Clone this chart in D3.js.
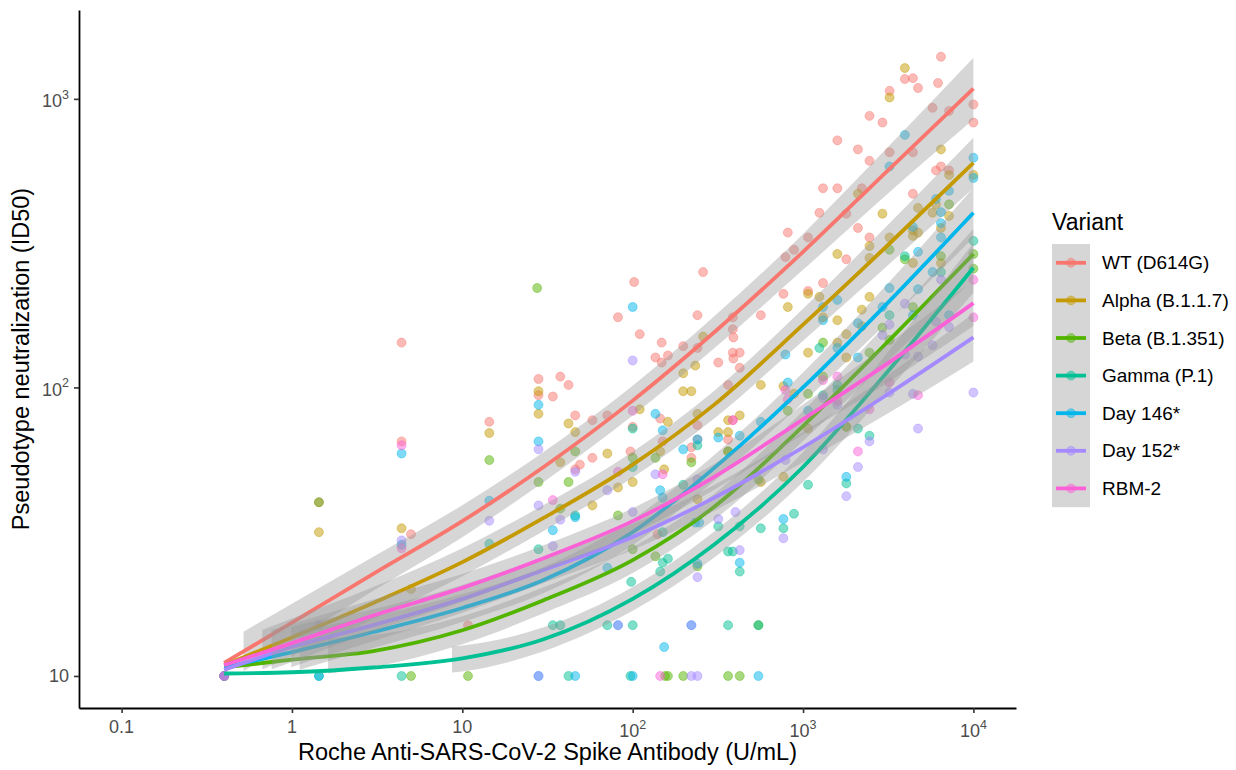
<!DOCTYPE html>
<html><head><meta charset="utf-8">
<script src="https://cdn.jsdelivr.net/npm/d3@7"></script>
<style>body{margin:0;background:#fff}svg{display:block}</style>
</head><body>
<svg id="chart" width="1236" height="770"></svg>
<script>
// ---------------- DATA ----------------
const variants = ["WT (D614G)", "Alpha (B.1.1.7)", "Beta (B.1.351)", "Gamma (P.1)", "Day 146*", "Day 152*", "RBM-2"];
const colors = ["#F8766D", "#C49A00", "#53B400", "#00C094", "#00B6EB", "#A58AFF", "#FB61D7"];

const xTicks = [0.1, 1, 10, 100, 1000, 10000];
const xTickLabels = [["0.1", ""], ["1", ""], ["10", ""], ["10", "2"], ["10", "3"], ["10", "4"]];
const yTicks = [10, 100, 1000];
const yTickLabels = [["10", ""], ["10", "2"], ["10", "3"]];

// fitted smooth curves (read at these antibody values)
const fitX = [0.4, 1, 3, 10, 30, 100, 300, 1000, 3000, 10000];
const fitWT    = [11.1, 15.3, 22.6, 34.4, 53, 90, 155, 295, 550, 1085];
const fitAlpha = [10.9, 13.6, 17.9, 24.8, 35.3, 54, 87, 165, 303, 600];
const fitBeta  = [10.7, 11.4, 12.2, 14.4, 18.3, 25.2, 38.5, 73.5, 140, 290];
const fitGamma = [10.2, 10.3, 10.7, 11.5, 13.4, 18.5, 28.5, 53, 110, 260];
const fitD146  = [10.7, 12.1, 14.2, 17.2, 21.5, 31.5, 52.5, 100, 191, 403];
const fitD152  = [10.5, 12.6, 15.0, 18.5, 23.3, 30.3, 41.4, 62, 93, 149];
const fitRBM   = [10.9, 13.0, 16.2, 20.2, 25.6, 34.4, 48.9, 77.5, 119, 196];

// confidence band: multiplicative half-width at fitX, and where the band begins
const bandWT    = [1.173, 1.164, 1.145, 1.136, 1.127, 1.127, 1.136, 1.154, 1.201, 1.280];
const bandAlpha = [1.183, 1.164, 1.136, 1.118, 1.109, 1.109, 1.118, 1.136, 1.173, 1.221];
const bandBeta  = [1.183, 1.164, 1.136, 1.118, 1.109, 1.109, 1.109, 1.127, 1.164, 1.221];
const bandGamma = [1.118, 1.118, 1.118, 1.109, 1.100, 1.100, 1.109, 1.127, 1.164, 1.221];
const bandD146  = [1.192, 1.173, 1.136, 1.118, 1.109, 1.109, 1.109, 1.127, 1.164, 1.221];
const bandD152  = [1.192, 1.173, 1.136, 1.118, 1.109, 1.109, 1.109, 1.127, 1.164, 1.211];
const bandRBM   = [1.183, 1.164, 1.136, 1.118, 1.109, 1.109, 1.109, 1.127, 1.164, 1.201];
const bandStart = [0.52, 0.67, 1.63, 8.7, 1.11, 0.99, 0.76];

// observations [antibody U/mL, ID50]
const pointsWT = [[0.4,10],[1.44,40],[4.4,143],[4.4,65],[5.0,31],[10.8,15],[14.4,76],
 [28,107],[28,94],[37.6,109],[42,102],[34,93],[46,80],[58,77],[71,80],[58,57],[49,54],[46,52],
 [97,60],[100,73],[145,78],[150,65],[140,31],[221,62],[221,57],[240,74],[240,66],[363,66],[387,77],[363,102],
 [102,232],[259,251],[82,175],[110,153],[240,178],[148,143],[198,139],[161,129],[136,127],[148,122],[240,137],[318,122],
 [387,175],[387,159],[390,149],[387,132],[390,126],[425,132],[425,117],
 [6450,1400],[3960,1172],[4415,1180],[4730,1091],[6200,1135],[3220,1066],[2455,873],[2924,828],[1590,718],[2100,668],
 [2455,610],[3220,653],[4415,653],[5756,931],[7194,908],[10000,957],[10000,828],[6030,565],[6450,583],[7194,565],
 [1310,490],[1590,490],[2213,490],[4415,469],[1248,403],[1795,400],[814,344],[885,300],[1070,331],[788,283],
 [2100,357],[2455,331],[1795,278],[1310,230],[1070,216],[767,211],[565,178]];
const pointsAlpha = [[0.4,10],[1.44,31.5],[4.4,32.5],[5.0,20],[14.4,69.5],[28,97],[28,81],[42,75],[46,70],[37.6,55],
 [71,59],[58,39],[82,45],[100,47],[110,84],[161,76],[145,60],[153,52],[198,97],[221,97],[240,81],[318,70],[363,70],
 [425,80],[363,77],[363,60],[240,41],[198,112],[259,150],[233,119],[565,102],[767,101],[885,95],[565,47],[767,49],
 [1070,72],[1795,73],[3960,1279],[3220,1011],[6450,668],[7194,545],[10000,545],[2100,469],[2924,400],[4730,419],
 [6030,431],[7194,393],[5756,403],[6450,357],[4415,350],[4415,335],[4730,344],[3220,331],[2455,309],[2455,281],
 [1590,290],[4415,270],[6450,270],[1070,211],[1248,206],[814,190],[1310,175],[1590,171],[2455,206],[2213,186],
 [1590,143],[1795,153],[2213,163],[1795,127],[1070,132]];
const pointsBeta = [[0.4,10],[1.44,40],[5.0,10],[10.8,10],[14.4,56],[27.5,221],[28,47],[42,47],[46,60],[37.6,38],
 [82,36],[100,27.5],[100,57],[136,57],[136,26],[240,24],[221,55],[155,10],[161,10],[198,10],[363,10],[425,10],
 [547,48],[547,15],[1070,95],[814,83],[1310,109],[3220,300],[3960,278],[6450,285],[7194,431],[10000,290],[10000,258],
 [2924,161],[4415,190],[1310,143],[2455,132],[3220,146],[1795,73],[363,60]];
const pointsGamma = [[0.4,10],[1.44,10],[4.4,10],[14.4,28.7],[28,27.5],[46,36],[34,15],[37.6,15],[42,10],[71,15],
 [100,15],[97,10],[98,21.2],[100,72],[100,53],[150,24.7],[161,25.5],[145,23],[150,31.5],[198,46],[240,63],[318,33],
 [363,27],[387,27],[425,23],[363,15],[425,33],[565,32.5],[767,32.5],[885,36.5],[1070,46],[1795,46.5],[2100,72],
 [2455,68],[1590,102],[1310,94],[1590,98],[547,15],[10000,322],[3960,285],[3217,178],[1248,137],[6450,251]];
const pointsD146 = [[0.4,10],[1.44,10],[4.4,59],[4.4,28.5],[14.4,40.5],[28,87],[28,65],[34,32],[46,10],[28,10],
 [46,35.5],[71,23.7],[100,10],[136,81],[150,71],[145,44],[150,41.5],[153,12.6],[198,61],[240,66],[233,34],[246,34],
 [240,24.5],[318,67],[425,68],[565,76],[425,24.7],[547,10],[767,35],[814,104],[1070,83],[1795,49],[100,190],[82,15],
 [221,15],[3960,750],[3217,583],[10000,625],[10000,532],[6030,450],[7194,480],[6450,405],[6450,371],[6456,331],
 [4730,295],[4415,360],[5756,251],[1310,190],[1590,201],[1310,171],[2924,190],[3217,221],[4730,219],[4415,178],
 [7194,178],[2100,167],[1590,137],[2100,127],[788,130]];
const pointsD152 = [[0.4,10],[1.44,15],[4.4,29.5],[14.4,34.5],[28,61],[28,10],[28,39],[37.6,34.8],[34,28.2],[46,51],
 [71,44],[100,37],[100,124],[136,50],[221,10],[240,10],[221,15],[82,15],[240,48],[240,22],[318,35],[425,27.3],
 [767,30],[788,56],[1310,61],[2455,65],[2100,53],[1795,42],[1310,92],[1590,87],[3217,96],[4415,95],[4730,72],
 [10000,96],[3217,165],[3960,195],[6030,169],[7194,162],[6456,236],[2924,152],[3963,130],[4731,128],[5756,140],[401,37]];
const pointsRBM = [[0.4,10],[4.4,63],[4.4,27.7],[34,40.7],[82,51],[100,83],[145,10],[150,50],[387,77],[788,98],
 [814,91],[1310,106],[1590,109],[1590,90],[2100,60],[2455,84],[3217,104],[4731,94],[10000,236],[10000,175]];

const fits = [fitWT, fitAlpha, fitBeta, fitGamma, fitD146, fitD152, fitRBM];
const bands = [bandWT, bandAlpha, bandBeta, bandGamma, bandD146, bandD152, bandRBM];
const pointSets = [pointsWT, pointsAlpha, pointsBeta, pointsGamma, pointsD146, pointsD152, pointsRBM];

// ---------------- DRAW ----------------
const svg = d3.select("#chart");
const FONT = "'Liberation Sans', Arial, Helvetica, sans-serif";
const W = 1236, H = 770;
const plot = {left: 79, right: 1016, top: 10, bottom: 708};

const x = d3.scaleLog().domain([Math.pow(10, -1.25), Math.pow(10, 4.25)]).range([plot.left, plot.right]);
const y = d3.scaleLog().domain([Math.pow(10, 0.889), Math.pow(10, 3.308)]).range([plot.bottom, plot.top]);

svg.append("rect").attr("width", W).attr("height", H).attr("fill", "#fff");

svg.append("defs").append("clipPath").attr("id", "panel")
  .append("rect").attr("x", plot.left).attr("y", plot.top)
  .attr("width", plot.right - plot.left).attr("height", plot.bottom - plot.top);

const panel = svg.append("g").attr("clip-path", "url(#panel)");

// points
variants.forEach((v, i) => {
  panel.append("g").selectAll("circle").data(pointSets[i]).join("circle")
    .attr("cx", d => x(d[0])).attr("cy", d => y(d[1])).attr("r", 4.5)
    .attr("fill", colors[i]).attr("fill-opacity", 0.5)
    .attr("stroke", colors[i]).attr("stroke-opacity", 0.5).attr("stroke-width", 0.8);
});

// smooths: ribbon then line per group
function interpAt(s, arrX, arrY, logY) {
  for (let k = 0; k < arrX.length - 1; k++) {
    if (s >= arrX[k] && s <= arrX[k + 1]) {
      const t = (Math.log10(s) - Math.log10(arrX[k])) / (Math.log10(arrX[k + 1]) - Math.log10(arrX[k]));
      if (logY) return Math.pow(10, Math.log10(arrY[k]) + t * (Math.log10(arrY[k + 1]) - Math.log10(arrY[k])));
      return arrY[k] + t * (arrY[k + 1] - arrY[k]);
    }
  }
  return arrY[0];
}
const lineGen = d3.line().x(d => x(d[0])).y(d => y(d[1])).curve(d3.curveMonotoneX);
const areaGen = d3.area().x(d => x(d[0])).y0(d => y(d[1] / d[2])).y1(d => y(d[1] * d[2])).curve(d3.curveMonotoneX);

variants.forEach((v, i) => {
  const s = bandStart[i];
  const bpts = [[s, interpAt(s, fitX, fits[i], true), interpAt(s, fitX, bands[i], false)]];
  fitX.forEach((fx, k) => { if (fx > s) bpts.push([fx, fits[i][k], bands[i][k]]); });
  panel.append("path").attr("d", areaGen(bpts)).attr("fill", "#999999").attr("fill-opacity", 0.4);
  panel.append("path").attr("d", lineGen(fitX.map((fx, k) => [fx, fits[i][k]])))
    .attr("fill", "none").attr("stroke", colors[i]).attr("stroke-width", 3.8);
});

// axes
const xAxis = svg.append("g").attr("transform", `translate(0,${plot.bottom})`)
  .call(d3.axisBottom(x).tickValues(xTicks).tickSize(5).tickSizeOuter(0).tickFormat(""));
const yAxis = svg.append("g").attr("transform", `translate(${plot.left},0)`)
  .call(d3.axisLeft(y).tickValues(yTicks).tickSize(5).tickSizeOuter(0).tickFormat(""));
[xAxis, yAxis].forEach(a => {
  a.select(".domain").attr("stroke", "#000").attr("stroke-width", 1.8);
  a.selectAll(".tick line").attr("stroke", "#333").attr("stroke-width", 1.6);
});

const tickFont = 18, supFont = 12.5;
xTicks.forEach((t, k) => {
  const [base, sup] = xTickLabels[k];
  const txt = svg.append("text").attr("x", x(t)).attr("y", sup ? 737 : 733)
    .attr("text-anchor", "middle").attr("font-family", FONT).attr("font-size", tickFont).attr("fill", "#4D4D4D")
    .text(base);
  if (sup) txt.append("tspan").attr("dy", -8.5).attr("font-size", supFont).text(sup);
});
yTicks.forEach((t, k) => {
  const [base, sup] = yTickLabels[k];
  const txt = svg.append("text").attr("x", 69).attr("y", y(t) + (sup ? 8.5 : 6.5))
    .attr("text-anchor", "end").attr("font-family", FONT).attr("font-size", tickFont).attr("fill", "#4D4D4D")
    .text(base);
  if (sup) txt.append("tspan").attr("dy", -8.5).attr("font-size", supFont).text(sup);
});

// axis titles
svg.append("text").attr("x", (plot.left + plot.right) / 2).attr("y", 760)
  .attr("text-anchor", "middle").attr("font-family", FONT).attr("font-size", 23.5).attr("fill", "#000")
  .text("Roche Anti-SARS-CoV-2 Spike Antibody (U/mL)");
svg.append("text").attr("transform", `translate(29,${(plot.top + plot.bottom) / 2}) rotate(-90)`)
  .attr("text-anchor", "middle").attr("font-family", FONT).attr("font-size", 23.5).attr("fill", "#000")
  .text("Pseudotype neutralization (ID50)");

// legend
const lg = svg.append("g");
lg.append("text").attr("x", 1052).attr("y", 230).attr("font-family", FONT).attr("font-size", 23).attr("fill", "#000").text("Variant");
const keyTop = 244, keyH = 37.6;
lg.append("rect").attr("x", 1052).attr("y", keyTop).attr("width", 38).attr("height", keyH * variants.length)
  .attr("fill", "#999999").attr("fill-opacity", 0.4);
variants.forEach((v, i) => {
  const cy = keyTop + keyH * (i + 0.5);
  lg.append("line").attr("x1", 1056).attr("x2", 1086).attr("y1", cy).attr("y2", cy)
    .attr("stroke", colors[i]).attr("stroke-width", 3.8);
  lg.append("circle").attr("cx", 1071).attr("cy", cy).attr("r", 4.5)
    .attr("fill", colors[i]).attr("fill-opacity", 0.5).attr("stroke", colors[i]).attr("stroke-opacity", 0.5).attr("stroke-width", 0.8);
  lg.append("text").attr("x", 1102).attr("y", cy + 6.5).attr("font-family", FONT).attr("font-size", 19).attr("fill", "#000").text(v);
});
</script>
</body></html>
